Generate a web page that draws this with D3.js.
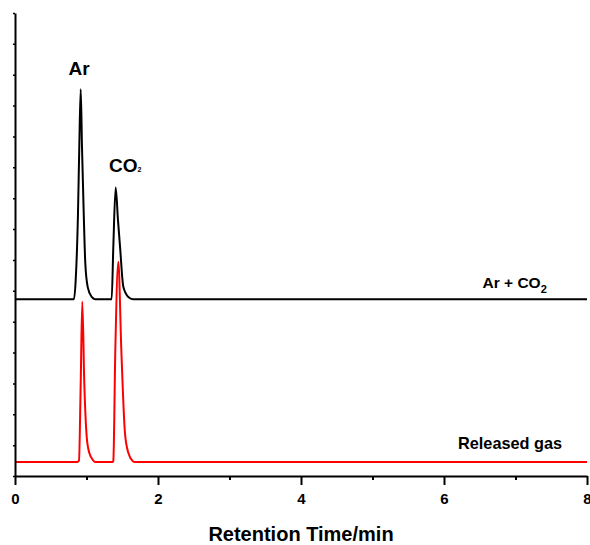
<!DOCTYPE html>
<html>
<head>
<meta charset="utf-8">
<script src="https://cdn.jsdelivr.net/npm/d3@7"></script>
<style>
  html, body { margin: 0; padding: 0; background: #fff; }
  svg { display: block; }
  text { font-family: "Liberation Sans", Arial, sans-serif; font-weight: bold; }
</style>
</head>
<body>
<svg id="chart" width="590" height="545"></svg>
<script>
// ---- data (time in min, signal in arbitrary units) ----
const mixTime   = [0, 0.825, 0.849, 0.881, 0.899, 0.919, 0.937, 0.961, 0.983, 1.017, 1.073, 1.119, 1.352, 1.375, 1.408, 1.440, 1.469, 1.515, 1.585, 1.650, 8];
const mixSignal = [5.73, 5.73, 6.35, 8.52, 10.66, 12.53, 10.66, 8.52, 6.90, 6.12, 5.80, 5.73, 5.73, 7.43, 9.35, 8.30, 7.43, 6.13, 5.80, 5.73, 5.73];

const relTime   = [0, 0.871, 0.895, 0.919, 0.941, 0.969, 1.003, 1.039, 1.095, 1.133, 1.364, 1.375, 1.403, 1.445, 1.487, 1.538, 1.585, 1.643, 1.678, 8];
const relSignal = [0.45, 0.45, 0.50, 3.01, 5.65, 3.01, 1.27, 0.75, 0.50, 0.45, 0.45, 0.49, 4.08, 6.94, 4.08, 1.39, 0.75, 0.49, 0.45, 0.45];

const xMajorTicks = [0, 2, 4, 6, 8];
const xMinorTicks = [1, 3, 5, 7];
const yTicks = [0, 1, 2, 3, 4, 5, 6, 7, 8, 9, 10, 11, 12, 13, 14, 15];
const xDomain = [0, 8];
const yDomain = [0, 15];
const xTitle = "Retention Time/min";

// ---- drawing ----
const svg = d3.select("#chart");
const x = d3.scaleLinear().domain(xDomain).range([15, 587]);
const y = d3.scaleLinear().domain(yDomain).range([476, 13]);

const line = d3.line()
  .x(d => x(d[0]))
  .y(d => y(d[1]))
  .curve(d3.curveMonotoneX);

const mixData = mixTime.map((t, i) => [t, mixSignal[i]]);
const relData = relTime.map((t, i) => [t, relSignal[i]]);

svg.append("path").datum(relData)
  .attr("d", line).attr("fill", "none")
  .attr("stroke", "#ff0000").attr("stroke-width", 2).attr("stroke-linejoin", "round");

svg.append("path").datum(mixData)
  .attr("d", line).attr("fill", "none")
  .attr("stroke", "#000").attr("stroke-width", 2).attr("stroke-linejoin", "round");

// x axis minor ticks
svg.append("g")
  .attr("transform", `translate(0,${y(0)})`)
  .call(d3.axisBottom(x).tickValues(xMinorTicks).tickSize(4).tickSizeOuter(0).tickFormat(""))
  .call(g => g.select(".domain").remove())
  .call(g => g.selectAll("line").attr("stroke-width", 2));

// x axis major ticks
const gx = svg.append("g")
  .attr("transform", `translate(0,${y(0)})`)
  .call(d3.axisBottom(x).tickValues(xMajorTicks).tickSize(9).tickSizeOuter(0).tickPadding(8).tickFormat(d3.format("d")));
gx.select(".domain").attr("stroke-width", 2);
gx.selectAll("line").attr("stroke-width", 2);
gx.selectAll("text").attr("font-size", 15).attr("font-weight", "bold")
  .attr("font-family", "'Liberation Sans', Arial, sans-serif").attr("fill", "#000");

// y axis
const gy = svg.append("g")
  .attr("transform", `translate(${x(0)},0)`)
  .call(d3.axisLeft(y).tickValues(yTicks).tickSize(2).tickSizeOuter(0).tickFormat(""));
gy.select(".domain").attr("stroke-width", 2);
gy.selectAll("line").attr("stroke-width", 1.5);

// axis title
svg.append("text")
  .attr("x", 301).attr("y", 541)
  .attr("text-anchor", "middle")
  .attr("font-size", 20)
  .text(xTitle);

// peak labels
svg.append("text").attr("x", 79).attr("y", 75)
  .attr("text-anchor", "middle").attr("font-size", 19).text("Ar");

const co2 = svg.append("text").attr("x", 109).attr("y", 172).attr("font-size", 19);
co2.append("tspan").text("CO");
co2.append("tspan").attr("font-size", 7).text("2");

// series labels
const mixLbl = svg.append("text").attr("x", 482.5).attr("y", 287.5).attr("font-size", 15.5);
mixLbl.append("tspan").text("Ar + CO");
mixLbl.append("tspan").attr("font-size", 11).attr("dy", 5).text("2");

svg.append("text").attr("x", 458).attr("y", 448.5).attr("font-size", 16.3).text("Released gas");
</script>
</body>
</html>
